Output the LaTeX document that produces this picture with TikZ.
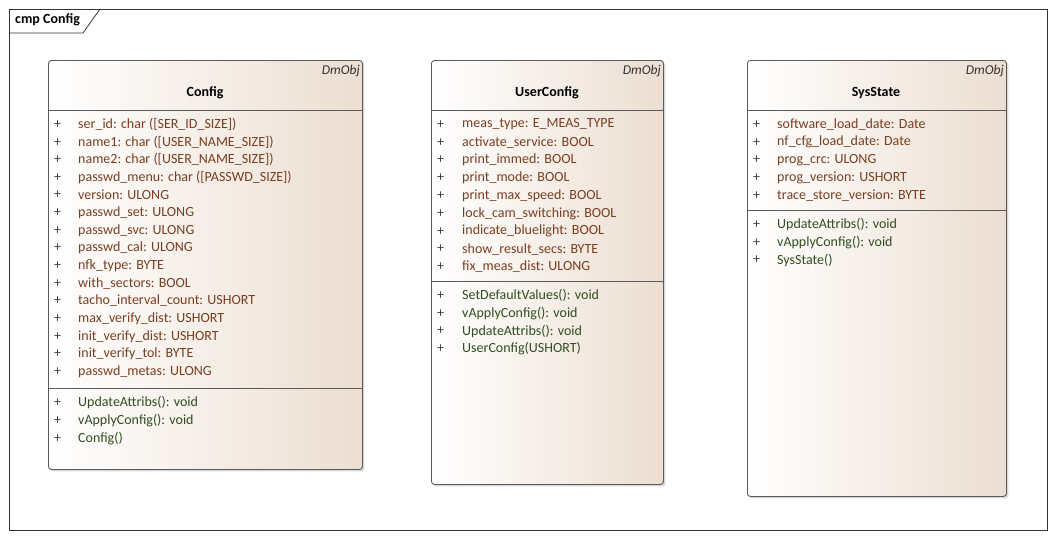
\documentclass[tikz,border=0pt]{standalone}
\usepackage{fontspec}
\setmainfont{Carlito}
\usetikzlibrary{shadows}
\definecolor{attrc}{RGB}{122,62,32}
\definecolor{operc}{RGB}{48,78,32}
\definecolor{edgec}{RGB}{90,90,90}
\definecolor{tanc}{RGB}{236,222,209}
\tikzset{
  classbox/.style={draw=edgec, line width=0.9pt, rounded corners=3pt, left color=white, right color=tanc,
    drop shadow={shadow xshift=2pt, shadow yshift=-2pt, fill=black!30, opacity=0.5}, anchor=north west, inner sep=0pt},
  divider/.style={draw=edgec, line width=0.9pt},
  txt/.style={font=\fontsize{14}{16}\selectfont, inner sep=0pt, anchor=west},
  attrtxt/.style={txt, text=attrc},
  opertxt/.style={txt, text=operc},
  plus/.style={txt, text=black!75},
  cname/.style={font=\fontsize{14}{16}\bfseries\selectfont, inner sep=0pt},
  stereo/.style={font=\fontsize{13.5}{16}\itshape\selectfont, inner sep=0pt, anchor=east, text=black!80},
}
\begin{document}
\begin{tikzpicture}[x=1pt,y=-1pt]
\useasboundingbox (0,0) rectangle (1055,538);
\fill[white] (0,0) rectangle (1055,538);
% frame
\node[draw=black!80, line width=0.8pt, minimum width=1038pt, minimum height=521pt, anchor=north west, inner sep=0pt] (frame) at (9,9) {};
\draw[black!80, line width=0.8pt] (9,33) -- (83,33) -- (100,9);
\node[font=\fontsize{14}{16}\bfseries\selectfont, inner sep=0pt, anchor=west] (flabel) at (15,20) {cmp Config};

% ---------- Config ----------
\node[classbox, minimum width=314pt, minimum height=409pt] (config) at (48,60) {};
\draw[divider] (48,110) -- (362,110);
\draw[divider] (48,388) -- (362,388);
\node[stereo] (configst) at (360,71) {DmObj};
\node[cname] (configname) at (205,93) {Config};
\foreach \t [count=\i] in {ser\_id: char ([SER\_ID\_SIZE]), name1: char ([USER\_NAME\_SIZE]), name2: char ([USER\_NAME\_SIZE]), passwd\_menu: char ([PASSWD\_SIZE]), version: ULONG, passwd\_set: ULONG, passwd\_svc: ULONG, passwd\_cal: ULONG, nfk\_type: BYTE, with\_sectors: BOOL, tacho\_interval\_count: USHORT, max\_verify\_dist: USHORT, init\_verify\_dist: USHORT, init\_verify\_tol: BYTE, passwd\_metas: ULONG} {
  \node[plus] (cap\i) at (54,{124.5+17.65*(\i-1)}) {+};
  \node[attrtxt] (ca\i) at (78,{124.5+17.65*(\i-1)}) {\t};
}
\foreach \t [count=\i] in {UpdateAttribs(): void, vApplyConfig(): void, Config()} {
  \node[plus] (cop\i) at (54,{402.5+17.9*(\i-1)}) {+};
  \node[opertxt] (co\i) at (78,{402.5+17.9*(\i-1)}) {\t};
}

% ---------- UserConfig ----------
\node[classbox, minimum width=232pt, minimum height=424pt] (user) at (431,60) {};
\draw[divider] (431,110) -- (663,110);
\draw[divider] (431,281) -- (663,281);
\node[stereo] (userst) at (661,71) {DmObj};
\node[cname] (username) at (547,93) {UserConfig};
\foreach \t [count=\i] in {meas\_type: E\_MEAS\_TYPE, activate\_service: BOOL, print\_immed: BOOL, print\_mode: BOOL, print\_max\_speed: BOOL, lock\_cam\_switching: BOOL, indicate\_bluelight: BOOL, show\_result\_secs: BYTE, fix\_meas\_dist: ULONG} {
  \node[plus] (uap\i) at (437,{124.5+17.8*(\i-1)}) {+};
  \node[attrtxt] (ua\i) at (462,{124.5+17.8*(\i-1)}) {\t};
}
\foreach \t [count=\i] in {SetDefaultValues(): void, vApplyConfig(): void, UpdateAttribs(): void, UserConfig(USHORT)} {
  \node[plus] (uop\i) at (437,{295.5+17.8*(\i-1)}) {+};
  \node[opertxt] (uo\i) at (462,{295.5+17.8*(\i-1)}) {\t};
}

% ---------- SysState ----------
\node[classbox, minimum width=259pt, minimum height=436pt] (sys) at (747,60) {};
\draw[divider] (747,110) -- (1006,110);
\draw[divider] (747,210) -- (1006,210);
\node[stereo] (sysst) at (1004,71) {DmObj};
\node[cname] (sysname) at (876,93) {SysState};
\foreach \t [count=\i] in {software\_load\_date: Date, nf\_cfg\_load\_date: Date, prog\_crc: ULONG, prog\_version: USHORT, trace\_store\_version: BYTE} {
  \node[plus] (sap\i) at (753,{124.5+17.8*(\i-1)}) {+};
  \node[attrtxt] (sa\i) at (777,{124.5+17.8*(\i-1)}) {\t};
}
\foreach \t [count=\i] in {UpdateAttribs(): void, vApplyConfig(): void, SysState()} {
  \node[plus] (sop\i) at (753,{224.5+17.8*(\i-1)}) {+};
  \node[opertxt] (so\i) at (777,{224.5+17.8*(\i-1)}) {\t};
}
\end{tikzpicture}
\end{document}
